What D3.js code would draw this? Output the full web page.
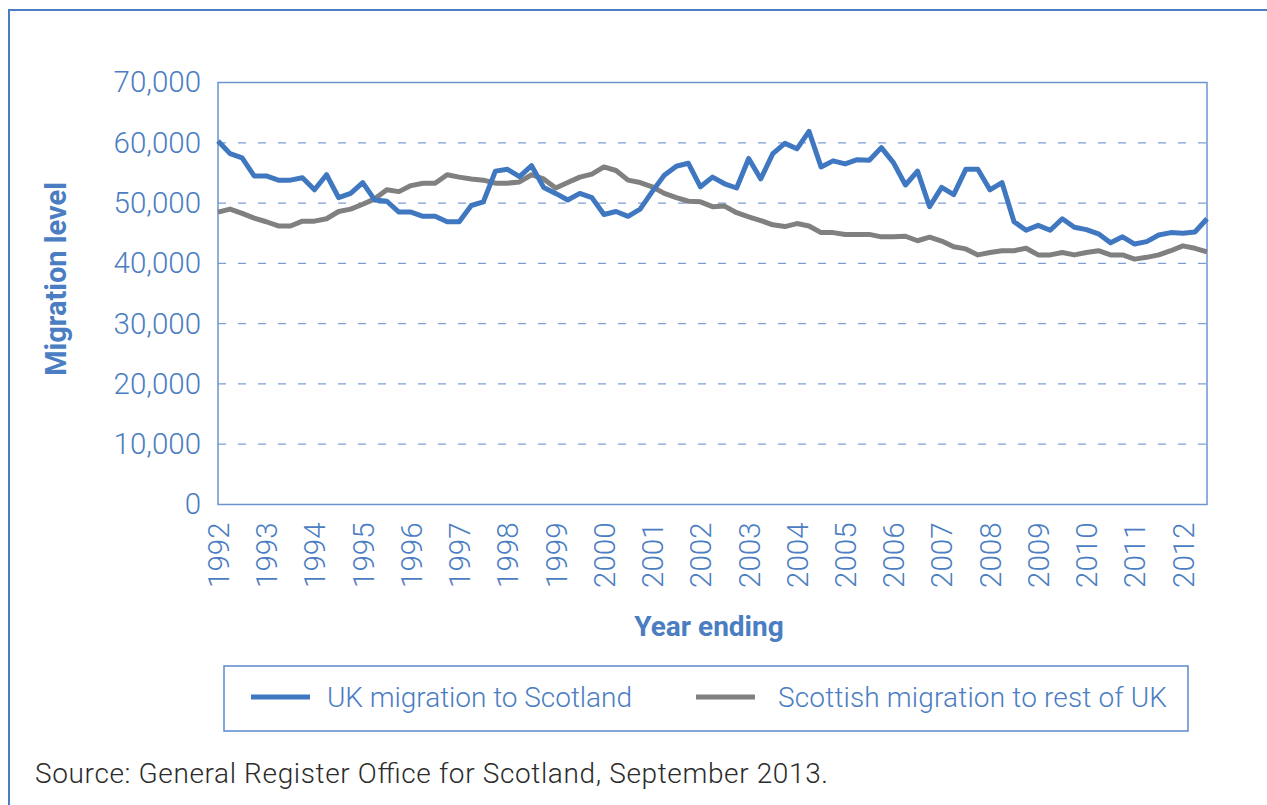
<!DOCTYPE html>
<html><head><meta charset="utf-8">
<script src="https://cdn.jsdelivr.net/npm/d3@7"></script>
<style>
html,body{margin:0;padding:0;background:#fff;}
svg{display:block;}
</style></head>
<body><svg id="c" width="1267" height="805"></svg>
<script>
// ---- data ----
const years = ["1992","1993","1994","1995","1996","1997","1998","1999","2000","2001","2002","2003","2004","2005","2006","2007","2008","2009","2010","2011","2012"];
const quarters = ["Q1","Q2","Q3","Q4"];
const ukToScotland = [60300,58200,57500,54500,54500,53800,53800,54200,52200,54700,50900,51600,53400,50500,50300,48500,48500,47800,47800,46900,46900,49600,50200,55300,55600,54400,56200,52600,51600,50500,51600,50900,48100,48600,47800,49000,51900,54600,56100,56600,52700,54300,53200,52500,57400,54000,58200,59900,59000,61900,56000,57000,56500,57200,57100,59200,56700,53000,55300,49400,52600,51400,55600,55600,52200,53400,46900,45500,46300,45500,47400,46000,45600,44900,43400,44400,43200,43600,44700,45100,45000,45200,47400];
const scotlandToRest = [48500,49000,48300,47500,46900,46200,46200,47000,47000,47400,48600,49000,49800,50700,52200,51900,52900,53300,53300,54700,54300,54000,53800,53300,53300,53500,54700,54000,52500,53400,54300,54800,56000,55400,53800,53400,52700,51600,50900,50300,50200,49400,49500,48400,47700,47100,46400,46100,46600,46200,45100,45100,44800,44800,44800,44400,44400,44500,43750,44350,43700,42750,42400,41400,41800,42100,42100,42500,41400,41400,41800,41400,41800,42100,41400,41400,40700,41000,41400,42100,42900,42500,41900];
const yTicks = [0,10000,20000,30000,40000,50000,60000,70000];
const seriesNames = ["UK migration to Scotland","Scottish migration to rest of UK"];

// categories: one per quarter, labelled by year
const categories = [];
years.forEach(y => quarters.forEach(q => categories.push(y + " " + q)));
categories.length = ukToScotland.length;

// ---- layout ----
const svg = d3.select("#c");
const blue = "#3f77c0", gray = "#808080", txt = "#4a7dc2";
const L = 218, R = 1207, T = 82.5, B = 504.5;
const x = d3.scalePoint().domain(categories).range([L, R]);
const y = d3.scaleLinear().domain([0, 70000]).range([B, T]);
const font = "Roboto, 'Liberation Sans', Arial, sans-serif";

// outer frame
svg.append("rect").attr("x",9).attr("y",10).attr("width",1300).attr("height",900)
  .attr("fill","none").attr("stroke","#4a7dc2").attr("stroke-width",2);

// grid
svg.append("g").selectAll("line").data(yTicks.filter(d => d > 0 && d < 70000)).join("line")
  .attr("x1", L).attr("x2", R).attr("y1", d => y(d)).attr("y2", d => y(d))
  .attr("stroke", "#7f9fd4").attr("stroke-width", 1.3).attr("stroke-dasharray", "8,12");

// plot border
svg.append("rect").attr("x", L).attr("y", T).attr("width", R - L).attr("height", B - T)
  .attr("fill", "none").attr("stroke", "#6b94cf").attr("stroke-width", 1.5);

// y axis labels
const yAxis = d3.axisLeft(y).tickValues(yTicks).tickFormat(d3.format(",")).tickSize(0).tickPadding(17);
const gy = svg.append("g").attr("transform", `translate(${L},0)`).call(yAxis);
gy.select(".domain").remove();
gy.selectAll("text").attr("fill", txt).style("font-family", font).style("font-weight", 300).style("font-size", "29.5px");

// x axis labels (every 4th quarter)
const xLabelCats = categories.filter(c => c.endsWith("Q1"));
const xAxis = d3.axisBottom(x).tickValues(xLabelCats).tickFormat(c => c.slice(0,4)).tickSize(0);
const gx = svg.append("g").attr("transform", `translate(0,${B})`).call(xAxis);
gx.select(".domain").remove();
gx.selectAll("text")
  .attr("transform", "translate(0,18) rotate(-90)")
  .attr("text-anchor", "end").attr("x", 0).attr("y", 0).attr("dy", "0.35em")
  .attr("fill", txt).style("font-family", font).style("font-weight", 300).style("font-size", "29.5px");

// lines
const line = d3.line().x((d, i) => x(categories[i])).y(d => y(d));
svg.append("path").datum(scotlandToRest).attr("d", line).attr("fill", "none")
  .attr("stroke", gray).attr("stroke-width", 5).attr("stroke-linejoin", "round");
svg.append("path").datum(ukToScotland).attr("d", line).attr("fill", "none")
  .attr("stroke", blue).attr("stroke-width", 5).attr("stroke-linejoin", "round");

// axis titles
svg.append("text").attr("transform", "translate(66,279) rotate(-90)").attr("text-anchor", "middle")
  .attr("fill", txt).style("font-family", font).style("font-weight", 700).style("font-size", "29px")
  .text("Migration level");
svg.append("text").attr("x", 709).attr("y", 636).attr("text-anchor", "middle")
  .attr("fill", txt).style("font-family", font).style("font-weight", 700).style("font-size", "28px")
  .text("Year ending");

// legend
svg.append("rect").attr("x", 224).attr("y", 666).attr("width", 964).attr("height", 65)
  .attr("fill", "none").attr("stroke", "#5b89cb").attr("stroke-width", 1.5);
const leg = [{name: seriesNames[0], color: blue, lx: 251, tx: 327, w: 305}, {name: seriesNames[1], color: gray, lx: 696, tx: 778, w: 389}];
leg.forEach(l => {
  svg.append("line").attr("x1", l.lx).attr("x2", l.lx + 59).attr("y1", 697).attr("y2", 697)
    .attr("stroke", l.color).attr("stroke-width", 5);
  svg.append("text").attr("x", l.tx).attr("y", 707).attr("fill", txt)
    .attr("textLength", l.w).attr("lengthAdjust", "spacing")
    .style("font-family", font).style("font-weight", 300).style("font-size", "28px").text(l.name);
});

// source
svg.append("text").attr("x", 35).attr("y", 783).attr("fill", "#2b2b2b")
  .attr("textLength", 793).attr("lengthAdjust", "spacing")
  .style("font-family", font).style("font-weight", 300).style("font-size", "28px")
  .text("Source: General Register Office for Scotland, September 2013.");
</script></body></html>
